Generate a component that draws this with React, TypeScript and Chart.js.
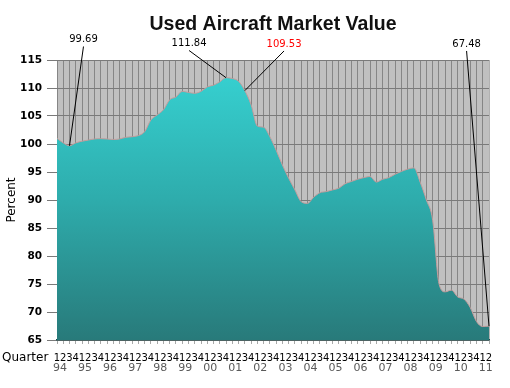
import React, { useEffect, useRef } from 'react';
import { Chart, registerables } from 'chart.js';

Chart.register(...registerables);

// ---- data ----
const years = ['94', '95', '96', '97', '98', '99', '00', '01', '02', '03', '04', '05', '06', '07', '08', '09', '10', '11'];
const quarterDigits = ['1', '2', '3', '4'];
const lastYearQuarterCount = 2;

const marketValue = [
  101.0, 100.2, 99.69, 100.2, 100.5, 100.7, 100.9, 100.95, 100.9, 100.8,
  100.9, 101.2, 101.3, 101.5, 102.2, 104.3, 105.2, 106.1, 107.9, 108.4,
  109.4, 109.2, 109.05, 109.4, 110.2, 110.5, 111.1, 111.84, 111.7, 111.2,
  109.53, 107.0, 103.2, 103.0, 101.3, 98.9, 96.25, 93.9, 91.8, 89.7,
  89.4, 90.5, 91.3, 91.5, 91.8, 92.1, 92.9, 93.3, 93.7, 94.0,
  94.2, 93.2, 93.7, 94.0, 94.6, 95.1, 95.5, 95.75, 93.2, 90.0,
  86.4, 75.1, 73.6, 73.9, 72.7, 72.3, 70.8, 68.3, 67.4, 67.48,
];

const yMin = 65;
const yMax = 115;
const yStep = 5;

const calloutIndices = [2, 27, 30, 69];
const calloutTexts = ['99.69', '111.84', '109.53', '67.48'];
const calloutColors = ['#000000', '#000000', '#ff0000', '#000000'];

const title = 'Used Aircraft Market Value';
const yTitle = 'Percent';
const xTitle = 'Quarter';

// ---- derived categories ----
const quarterLabels: string[] = [];
const yearLabels: string[] = [];
years.forEach((y, yi) => {
  const n = yi === years.length - 1 ? lastYearQuarterCount : 4;
  for (let q = 0; q < n; q++) {
    quarterLabels.push(quarterDigits[q]);
    yearLabels.push(q === 0 ? y : '');
  }
});

// callout label anchors, in (category index, value) space
const calloutAnchors = [
  { i: 4.23, v: 118.66 },
  { i: 21.09, v: 117.95 },
  { i: 36.26, v: 117.86 },
  { i: 65.42, v: 117.86 },
];

const FONT = "'DejaVu Sans', Verdana, sans-serif";

const plotBackground = {
  id: 'plotBackground',
  beforeDraw(chart: any) {
    const { ctx, chartArea } = chart;
    if (!chartArea) return;
    ctx.save();
    ctx.fillStyle = '#c0c0c0';
    ctx.fillRect(chartArea.left, chartArea.top, chartArea.right - chartArea.left, chartArea.bottom - chartArea.top);
    ctx.restore();
  },
};

const callouts = {
  id: 'callouts',
  afterDraw(chart: any) {
    const { ctx } = chart;
    const xs = chart.scales.x;
    const ys = chart.scales.y;
    ctx.save();
    ctx.font = `10px ${FONT}`;
    ctx.textAlign = 'center';
    ctx.textBaseline = 'middle';
    calloutIndices.forEach((idx, k) => {
      const px = xs.getPixelForValue(idx);
      const py = ys.getPixelForValue(marketValue[idx]);
      const lx = xs.getPixelForValue(calloutAnchors[k].i);
      const ly = ys.getPixelForValue(calloutAnchors[k].v);
      ctx.strokeStyle = '#000';
      ctx.lineWidth = 1;
      ctx.beginPath();
      ctx.moveTo(lx, ly + 7);
      ctx.lineTo(px, py);
      ctx.stroke();
      ctx.fillStyle = calloutColors[k];
      ctx.fillText(calloutTexts[k], lx, ly);
    });
    // x axis caption at far left
    ctx.fillStyle = '#000';
    ctx.font = `12px ${FONT}`;
    ctx.textAlign = 'left';
    ctx.textBaseline = 'middle';
    ctx.fillText(xTitle, 2, xs.top + 18);
    ctx.restore();
  },
};

export default function App() {
  const ref = useRef<HTMLCanvasElement | null>(null);

  useEffect(() => {
    if (!ref.current) return;
    const chart = new Chart(ref.current, {
      type: 'line',
      data: {
        labels: quarterLabels,
        datasets: [
          {
            data: marketValue,
            fill: 'start',
            borderColor: '#c49c9c',
            borderWidth: 1,
            pointRadius: 0,
            cubicInterpolationMode: 'monotone',
            backgroundColor: (c: any) => {
              const { chart: ch } = c;
              const area = ch.chartArea;
              if (!area) return '#30b8b8';
              const g = ch.ctx.createLinearGradient(0, area.top, 0, area.bottom);
              g.addColorStop(0, '#37d4d4');
              g.addColorStop(0.5, '#2eacac');
              g.addColorStop(1, '#287a7a');
              return g;
            },
          },
        ],
      },
      options: {
        animation: false,
        responsive: false,
        events: [],
        layout: { padding: { left: 0, right: 21, top: 0, bottom: 0 } },
        plugins: {
          legend: { display: false },
          tooltip: { enabled: false },
          title: {
            display: true,
            text: title,
            fullSize: false,
            color: '#111',
            font: { family: "'Liberation Sans', Arial, sans-serif", size: 19.5, weight: 'bold' },
            padding: { top: 13, bottom: 23.6 },
          },
        },
        scales: {
          x: {
            type: 'category',
            labels: quarterLabels,
            min: 0,
            max: quarterLabels.length - 1,
            offset: false,
            z: 1,
            weight: 0,
            grid: {
              display: true,
              color: 'rgba(0,0,0,0.3)',
              lineWidth: 1,
              tickLength: 4,
              tickColor: '#a8a8a8',
              offset: false,
            },
            border: { display: true, color: '#1f4c4c', width: 1.5 },
            ticks: {
              autoSkip: false,
              maxRotation: 0,
              minRotation: 0,
              padding: 8.5,
              color: '#000',
              font: { family: FONT, size: 10 },
            },
            afterFit: (s: any) => {
              s.height = 22;
            },
          },
          x2: {
            type: 'category',
            position: 'bottom',
            labels: yearLabels,
            min: 0,
            max: yearLabels.length - 1,
            offset: false,
            weight: 1,
            grid: { display: false, drawTicks: false },
            border: { display: false },
            ticks: {
              autoSkip: false,
              maxRotation: 0,
              minRotation: 0,
              padding: 0,
              labelOffset: 3,
              color: '#5a5a5a',
              font: { family: FONT, size: 11 },
            },
            afterFit: (s: any) => {
              s.height = 26;
            },
          },
          y: {
            min: yMin,
            max: yMax,
            grid: { color: '#7a7a7a', lineWidth: 1, tickLength: 10, tickColor: '#7a7a7a' },
            border: { display: false },
            ticks: {
              stepSize: yStep,
              padding: 5,
              color: '#000',
              font: { family: FONT, size: 10.5, weight: 'bold' },
            },
            title: {
              display: true,
              text: yTitle,
              color: '#000',
              font: { family: FONT, size: 12 },
              padding: { top: 5, bottom: 0 },
            },
            afterFit: (s: any) => {
              s.width = 57;
            },
          },
        },
      },
      plugins: [plotBackground, callouts],
    } as any);
    return () => chart.destroy();
  }, []);

  return (
    <div style={{ position: 'absolute', left: 0, top: 0, width: 510, height: 388, background: '#fff' }}>
      <canvas ref={ref} width={510} height={388} style={{ display: 'block' }} />
    </div>
  );
}
